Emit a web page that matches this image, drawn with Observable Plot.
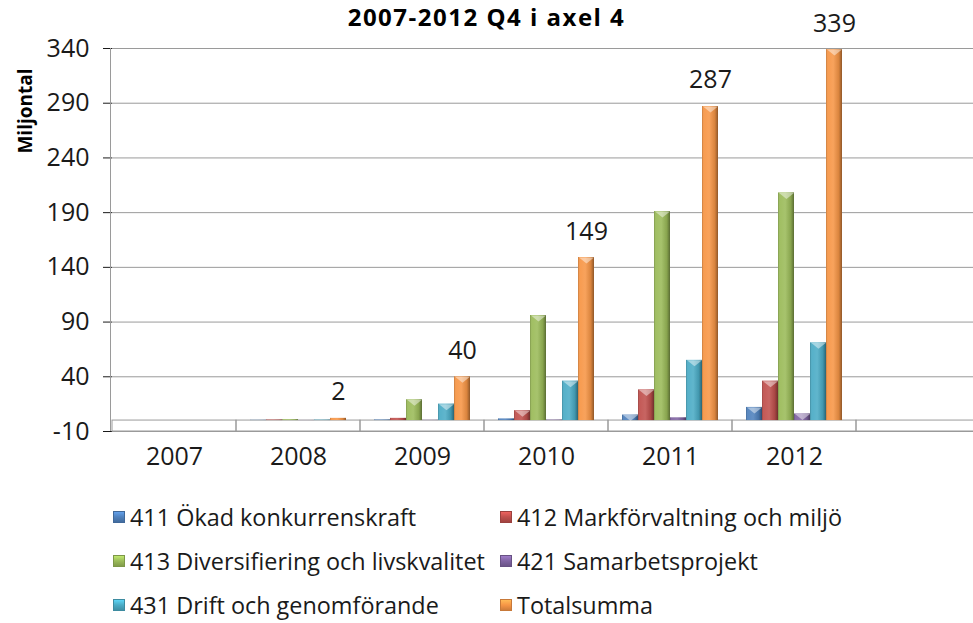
<!DOCTYPE html>
<html>
<head>
<meta charset="utf-8">
<script src="https://cdn.jsdelivr.net/npm/d3@7"></script>
<script src="https://cdn.jsdelivr.net/npm/@observablehq/plot@0.6"></script>
<style>
  body { margin: 0; background: #fff; font-family: "Open Sans", sans-serif; }
  #wrap { position: relative; width: 973px; height: 623px; overflow: hidden; background: #fff; }
  #chart { position: absolute; left: 0; top: 0; }
  #title { position: absolute; left: 0; top: 0; width: 973px; text-align: center;
           font: bold 24px/33px "Open Sans", sans-serif; letter-spacing: 1.5px; color: #000; white-space: nowrap; }
  #ylabel { position: absolute; left: -35px; top: 99px; width: 120px; text-align: center;
            font: bold 19px/24px "Open Sans", sans-serif; color: #000; transform: rotate(-90deg); }
  #legend { position: absolute; left: 113px; top: 495px; display: grid;
            grid-template-columns: 387px auto; font: 23.4px/44px "Open Sans", sans-serif; color: #1a1a1a; }
  #legend .item { display: flex; align-items: center; white-space: nowrap; }
  #legend .sw { width: 12px; height: 12px; margin-right: 5px; flex: none; }
  g[aria-label="y-axis tick"] { stroke: #9a9a9a; }
</style>
</head>
<body>
<svg width="0" height="0" style="position:absolute">
  <defs>
    <linearGradient id="shade" x1="0" x2="1" y1="0" y2="0">
      <stop offset="0" stop-color="#000" stop-opacity="0.22"/>
      <stop offset="0.12" stop-color="#fff" stop-opacity="0.06"/>
      <stop offset="0.45" stop-color="#fff" stop-opacity="0.12"/>
      <stop offset="0.8" stop-color="#000" stop-opacity="0.12"/>
      <stop offset="1" stop-color="#000" stop-opacity="0.42"/>
    </linearGradient>
  </defs>
</svg>
<div id="wrap">
  <div id="chart"></div>
  <div id="title">2007-2012 Q4 i axel 4</div>
  <div id="ylabel">Miljontal</div>
  <div id="legend"></div>
</div>
<script>
// ---- data ----
const years = ["2007", "2008", "2009", "2010", "2011", "2012"];
const slots = [...years, ""]; // the chart shows one trailing empty category slot
const series = [
  "411 Ökad konkurrenskraft",
  "412 Markförvaltning och miljö",
  "413 Diversifiering och livskvalitet",
  "421 Samarbetsprojekt",
  "431 Drift och genomförande",
  "Totalsumma"
];
const colors = ["#4F81BD", "#C0504D", "#9BBB59", "#8064A2", "#4BACC6", "#F79646"];
const v411 = [0, 0.2, 0.5, 1.5, 5, 12];
const v412 = [0, 0.5, 2, 9, 28, 36];
const v413 = [0, 0.8, 19, 96, 191, 208];
const v421 = [0, 0.1, 0.2, 0.4, 2.5, 6];
const v431 = [0, 0.4, 15, 36, 55, 71];
const vTotal = [0, 2, 40, 149, 287, 339];
const totalLabels = ["", "2", "40", "149", "287", "339"];
const yTicks = [-10, 40, 90, 140, 190, 240, 290, 340];
const yLabel = "Miljontal";

const seriesValues = [v411, v412, v413, v421, v431, vTotal];
const rows = [];
years.forEach((yr, i) => series.forEach((s, j) => rows.push({year: yr, series: s, value: seriesValues[j][i], idx: i})));

// flattened downward triangle used as the bevelled top cap of each bar
const cap = {
  draw(ctx, size) {
    const r = Math.sqrt(size / Math.PI);
    ctx.moveTo(-r, 0);
    ctx.lineTo(r, 0);
    ctx.lineTo(0, r * 0.8);
    ctx.closePath();
  }
};

const chart = Plot.plot({
  width: 973,
  height: 490,
  marginTop: 48,
  marginBottom: 59,
  marginLeft: 111,
  marginRight: -7,
  style: {fontFamily: "'Open Sans', sans-serif", fontSize: "25px", color: "#1a1a1a", background: "transparent"},
  fx: {domain: slots, padding: 0, axis: "bottom", label: null, tickSize: 0, tickPadding: 16},
  x: {domain: series, paddingInner: 0, paddingOuter: 0.69, axis: null},
  y: {domain: [-10, 340], ticks: yTicks, tickSize: 9, tickPadding: 14, label: null, tickFormat: d => String(d)},
  color: {domain: series, range: colors},
  marks: [
    Plot.ruleY(yTicks, {stroke: "#9a9a9a"}),
    Plot.rect(slots, {fx: d => d, y1: -10, y2: 0, fill: "none", stroke: "#9a9a9a"}),
    Plot.barY(rows, {fx: "year", x: "series", y1: 0, y2: "value", fill: "series"}),
    Plot.barY(rows, {fx: "year", x: "series", y1: 0, y2: "value", fill: "url(#shade)"}),
    Plot.dot(rows.filter(d => d.value >= 3), {fx: "year", x: "series", y: "value", symbol: cap, r: 7.5, fill: "white", fillOpacity: 0.45, stroke: "none"}),
    Plot.text(rows.filter(d => d.series === "Totalsumma" && d.value > 0),
      {fx: "year", x: "series", y: "value", text: d => totalLabels[d.idx], dy: -26, fill: "#1a1a1a"})
  ]
});

// vertical value-axis line at the left edge of the plot frame
const ys = chart.scale("y");
d3.select(chart).append("line")
  .attr("x1", 110.5).attr("x2", 110.5)
  .attr("y1", ys.range[0]).attr("y2", ys.range[1])
  .attr("stroke", "#9a9a9a");

document.getElementById("chart").appendChild(chart);
document.getElementById("ylabel").textContent = yLabel;

// legend (two columns, three rows)
const legend = document.getElementById("legend");
series.forEach((s, j) => {
  const item = document.createElement("div");
  item.className = "item";
  const sw = document.createElement("span");
  sw.className = "sw";
  const c = d3.color(colors[j]);
  sw.style.background = `linear-gradient(to bottom, ${c.brighter(0.6)} 0%, ${c} 50%, ${c.darker(0.5)} 100%)`;
  sw.style.border = `1px solid ${c.darker(0.6)}`;
  sw.style.boxSizing = "border-box";
  item.appendChild(sw);
  item.appendChild(document.createTextNode(s));
  legend.appendChild(item);
});
</script>
</body>
</html>
